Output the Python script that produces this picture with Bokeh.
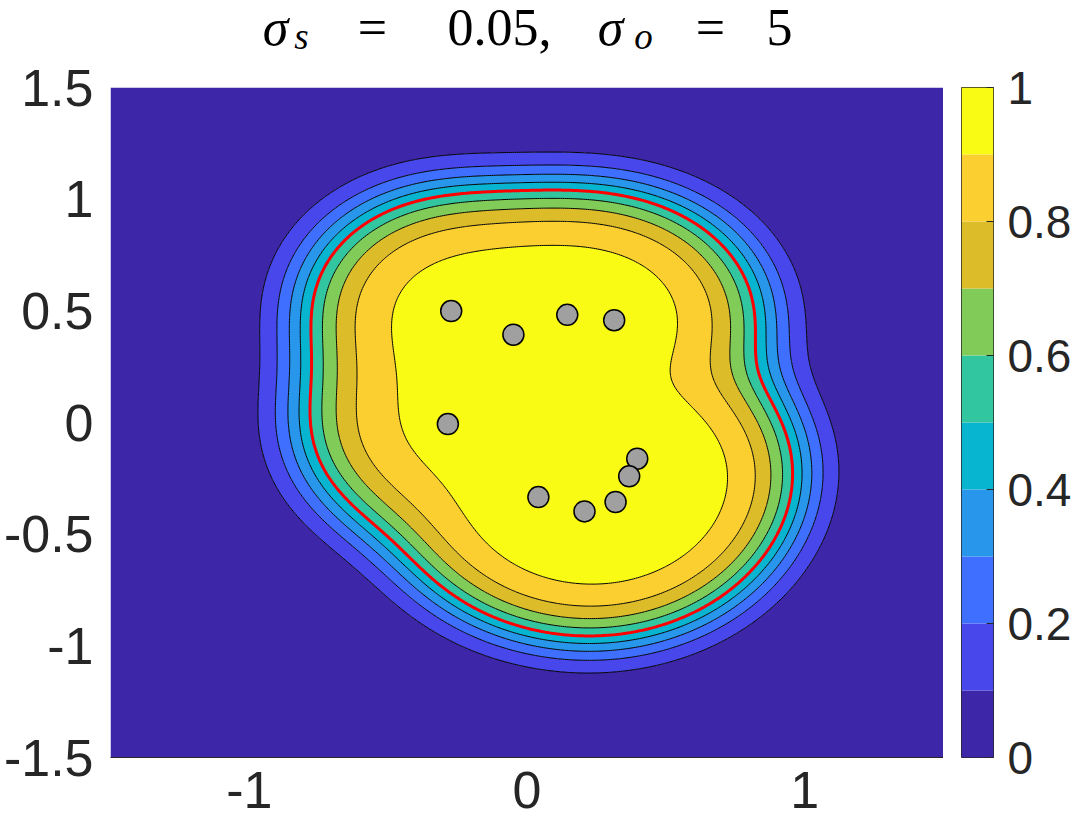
import numpy as np
from bokeh.plotting import figure
from bokeh.models import Range1d, FixedTicker, CustomJSTickFormatter
from bokeh.core.properties import value
from bokeh.layouts import row, column
from bokeh.embed import file_html
from bokeh.resources import INLINE

# ---- data ----
pt_x = [-0.273, -0.049, 0.145, 0.314, -0.285, 0.397, 0.368, 0.041, 0.207, 0.319]
pt_y = [0.499, 0.393, 0.482, 0.458, -0.007, -0.162, -0.241, -0.334, -0.398, -0.356]
sigma_s = 0.05
sigma_o = 5.0
levels = [0.0, 0.1, 0.2, 0.3, 0.4, 0.5, 0.6, 0.7, 0.8, 0.9, 1.0]
red_level = [0.5]
palette = ["#3E26A8", "#4747EB", "#3E6FFF", "#2796EB", "#08B5D0",
           "#31C69F", "#81CC59", "#DCBD29", "#FCCF30", "#F9FB15"]
x_ticks = [-1, 0, 1]
y_ticks = [-1.5, -1, -0.5, 0, 0.5, 1, 1.5]
cb_ticks = [0, 0.2, 0.4, 0.6, 0.8, 1]

# ---- field: inlier kernel density vs broad outlier density ----
gx = np.linspace(-1.5, 1.5, 401)
gy = np.linspace(-1.5, 1.5, 401)
X, Y = np.meshgrid(gx, gy)
p_in = np.zeros_like(X)
for xi, yi in zip(pt_x, pt_y):
    p_in += np.exp(-((X - xi) ** 2 + (Y - yi) ** 2) / (2 * sigma_s)) / (2 * np.pi * sigma_s)
p_in /= len(pt_x)
p_out = np.exp(-(X ** 2 + Y ** 2) / (2 * sigma_o)) / (2 * np.pi * sigma_o)
Z = p_in / (p_in + p_out)

TICK_FONT = "Liberation Sans"
TXT = "#262626"
TITLE_H = 58

# ---- title (LaTeX-like pieces) ----
tf = figure(width=1074, height=TITLE_H, x_range=Range1d(0, 1074), y_range=Range1d(TITLE_H, 0),
            output_backend="svg", toolbar_location=None,
            x_axis_location=None, y_axis_location=None,
            min_border_left=0, min_border_right=0, min_border_top=0, min_border_bottom=0)
tf.grid.visible = False
tf.outline_line_color = None
BIG = 52
SMALL = 37
MB = 46.3 - 0.37 * BIG
SB = 50.0 - 0.37 * SMALL
tf.text(x=[275, 610], y=[MB, MB], text=["σ", "σ"],
        text_font=value("Liberation Serif"), text_font_style="italic",
        text_font_size=f"{BIG}px", text_color="black",
        text_baseline="alphabetic", text_align="center")
tf.text(x=[301, 643], y=[SB, SB], text=["s", "o"],
        text_font=value("Liberation Serif"), text_font_style="italic",
        text_font_size=f"{SMALL}px", text_color="black",
        text_baseline="alphabetic", text_align="center")
tf.text(x=[372, 499, 710, 779], y=[MB, MB, MB, MB], text=["=", "0.05,", "=", "5"],
        text_font=value("Liberation Serif"), text_font_style="normal",
        text_font_size=f"{BIG}px", text_color="black",
        text_baseline="alphabetic", text_align="center")

# ---- main contour plot ----
TOP = 87 - TITLE_H
BOT = 71
p = figure(width=943, height=TOP + 670 + BOT, x_range=Range1d(-1.5, 1.5), y_range=Range1d(-1.5, 1.5),
           output_backend="svg", toolbar_location=None,
           min_border_left=110, min_border_right=0, min_border_top=TOP, min_border_bottom=BOT)
p.grid.visible = False
p.outline_line_color = None

p.contour(gx, gy, Z, levels, fill_color=palette, line_color="black", line_width=1.0)
p.contour(gx, gy, Z, red_level, line_color="red", line_width=3)
p.scatter(pt_x, pt_y, size=21, fill_color="#A0A0A0", line_color="black", line_width=1.5)

for ax in (p.xaxis[0], p.yaxis[0]):
    ax.major_tick_in = 0
    ax.major_tick_out = 0
    ax.minor_tick_in = 0
    ax.minor_tick_out = 0
    ax.major_label_text_font = TICK_FONT
    ax.major_label_text_font_size = "52px"
    ax.major_label_text_color = TXT
    ax.formatter = CustomJSTickFormatter(code="return tick.toString()")
p.xaxis.ticker = FixedTicker(ticks=x_ticks)
p.yaxis.ticker = FixedTicker(ticks=y_ticks)
p.xaxis.axis_line_color = TXT
p.yaxis.axis_line_color = None
p.xaxis.major_label_standoff = 14
p.yaxis.major_label_standoff = 17

# ---- colorbar ----
cb = figure(width=131, height=TOP + 670 + BOT, x_range=Range1d(0, 1), y_range=Range1d(0, 1),
            output_backend="svg", toolbar_location=None,
            x_axis_location=None, y_axis_location="right",
            min_border_left=18, min_border_right=81, min_border_top=TOP, min_border_bottom=BOT)
cb.grid.visible = False
cb.quad(left=0, right=1, bottom=levels[:-1], top=levels[1:], fill_color=palette, line_color=None)
cb.outline_line_color = TXT
cb.outline_line_width = 1
cax = cb.yaxis[0]
cax.ticker = FixedTicker(ticks=cb_ticks)
cax.formatter = CustomJSTickFormatter(code="return tick.toString()")
cax.major_tick_in = 7
cax.major_tick_out = 0
cax.minor_tick_in = 0
cax.minor_tick_out = 0
cax.axis_line_color = None
cax.major_tick_line_color = TXT
cax.major_label_text_font = TICK_FONT
cax.major_label_text_font_size = "46px"
cax.major_label_text_color = TXT
cax.major_label_standoff = 14

layout = column(tf, row(p, cb))
open("out.html", "w").write(file_html(layout, INLINE))
